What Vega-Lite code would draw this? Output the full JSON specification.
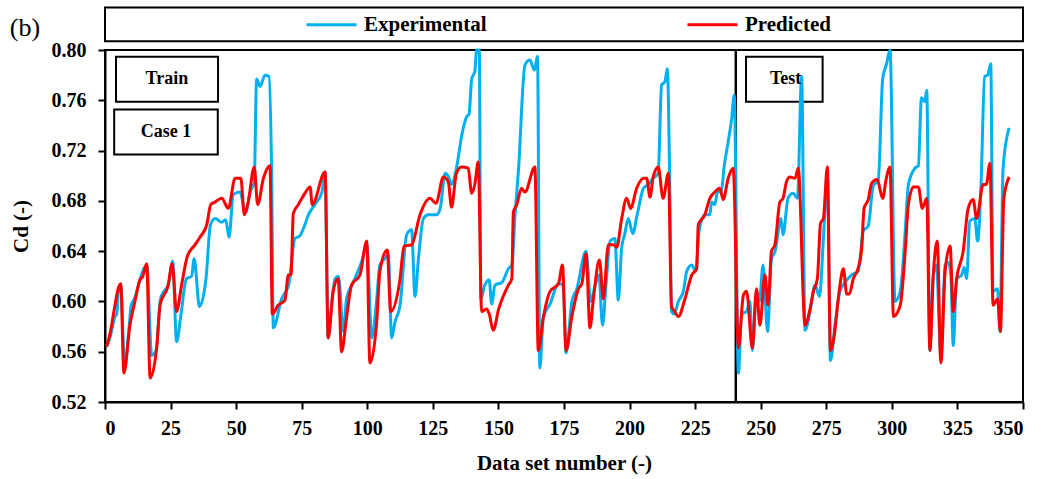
{
  "$schema": "https://vega.github.io/schema/vega-lite/v6.json",
  "width": 918,
  "height": 352,
  "autosize": {"type": "none"},
  "padding": {"left": 105, "top": 50, "right": 18, "bottom": 77},
  "background": "white",
  "config": {
    "font": "Liberation Serif",
    "view": {"stroke": "black", "strokeWidth": 2},
    "axis": {
      "grid": false,
      "domainColor": "black",
      "domainWidth": 2,
      "tickColor": "black",
      "tickWidth": 2,
      "tickSize": 7,
      "labelFont": "Liberation Serif",
      "labelFontSize": 20,
      "labelFontWeight": "bold",
      "labelColor": "black",
      "titleFont": "Liberation Serif",
      "titleFontSize": 21,
      "titleFontWeight": "bold",
      "titleColor": "black"
    }
  },
  "datasets": {
    "one": [{}],
    "series": [
      {"n":0.6,"s":"Experimental","cd":0.564},{"n":2,"s":"Experimental","cd":0.572},{"n":3.8,"s":"Experimental","cd":0.588},{"n":4.5,"s":"Experimental","cd":0.590},{"n":5.1,"s":"Experimental","cd":0.608},{"n":6,"s":"Experimental","cd":0.612},{"n":7.5,"s":"Experimental","cd":0.548},{"n":9,"s":"Experimental","cd":0.575},{"n":10,"s":"Experimental","cd":0.597},{"n":11.4,"s":"Experimental","cd":0.603},{"n":13.3,"s":"Experimental","cd":0.617},{"n":14.4,"s":"Experimental","cd":0.624},{"n":15.9,"s":"Experimental","cd":0.629},{"n":17.8,"s":"Experimental","cd":0.557},{"n":19.5,"s":"Experimental","cd":0.561},{"n":21,"s":"Experimental","cd":0.600},{"n":21.6,"s":"Experimental","cd":0.605},{"n":24.1,"s":"Experimental","cd":0.613},{"n":25.8,"s":"Experimental","cd":0.632},{"n":27.3,"s":"Experimental","cd":0.568},{"n":29,"s":"Experimental","cd":0.590},{"n":31,"s":"Experimental","cd":0.618},{"n":33,"s":"Experimental","cd":0.620},{"n":34,"s":"Experimental","cd":0.634},{"n":36,"s":"Experimental","cd":0.596},{"n":38.5,"s":"Experimental","cd":0.618},{"n":40.2,"s":"Experimental","cd":0.661},{"n":42,"s":"Experimental","cd":0.666},{"n":44.5,"s":"Experimental","cd":0.663},{"n":46,"s":"Experimental","cd":0.665},{"n":47.3,"s":"Experimental","cd":0.651},{"n":48.9,"s":"Experimental","cd":0.685},{"n":51.4,"s":"Experimental","cd":0.687},{"n":53.7,"s":"Experimental","cd":0.671},{"n":55.3,"s":"Experimental","cd":0.687},{"n":56.9,"s":"Experimental","cd":0.695},{"n":57.8,"s":"Experimental","cd":0.777},{"n":59.1,"s":"Experimental","cd":0.771},{"n":61,"s":"Experimental","cd":0.780},{"n":62.5,"s":"Experimental","cd":0.779},{"n":63.5,"s":"Experimental","cd":0.706},{"n":64.2,"s":"Experimental","cd":0.579},{"n":67.3,"s":"Experimental","cd":0.602},{"n":70,"s":"Experimental","cd":0.613},{"n":72.4,"s":"Experimental","cd":0.650},{"n":74.2,"s":"Experimental","cd":0.652},{"n":76.2,"s":"Experimental","cd":0.661},{"n":77.6,"s":"Experimental","cd":0.669},{"n":80,"s":"Experimental","cd":0.677},{"n":82.7,"s":"Experimental","cd":0.687},{"n":83.9,"s":"Experimental","cd":0.703},{"n":85.1,"s":"Experimental","cd":0.571},{"n":86.5,"s":"Experimental","cd":0.600},{"n":87.7,"s":"Experimental","cd":0.618},{"n":89,"s":"Experimental","cd":0.620},{"n":90.9,"s":"Experimental","cd":0.576},{"n":92.1,"s":"Experimental","cd":0.602},{"n":94.6,"s":"Experimental","cd":0.615},{"n":97.9,"s":"Experimental","cd":0.632},{"n":99.8,"s":"Experimental","cd":0.645},{"n":101.7,"s":"Experimental","cd":0.571},{"n":103.6,"s":"Experimental","cd":0.602},{"n":104.8,"s":"Experimental","cd":0.629},{"n":106.7,"s":"Experimental","cd":0.634},{"n":108,"s":"Experimental","cd":0.638},{"n":109.3,"s":"Experimental","cd":0.571},{"n":110.6,"s":"Experimental","cd":0.584},{"n":112.5,"s":"Experimental","cd":0.597},{"n":115,"s":"Experimental","cd":0.653},{"n":116.9,"s":"Experimental","cd":0.657},{"n":118.2,"s":"Experimental","cd":0.604},{"n":119.5,"s":"Experimental","cd":0.634},{"n":121.4,"s":"Experimental","cd":0.666},{"n":123.3,"s":"Experimental","cd":0.669},{"n":126.5,"s":"Experimental","cd":0.669},{"n":127.8,"s":"Experimental","cd":0.674},{"n":129.7,"s":"Experimental","cd":0.702},{"n":131,"s":"Experimental","cd":0.699},{"n":132.1,"s":"Experimental","cd":0.693},{"n":134,"s":"Experimental","cd":0.706},{"n":136,"s":"Experimental","cd":0.732},{"n":137.9,"s":"Experimental","cd":0.747},{"n":138.8,"s":"Experimental","cd":0.749},{"n":139.8,"s":"Experimental","cd":0.777},{"n":141,"s":"Experimental","cd":0.783},{"n":141.7,"s":"Experimental","cd":0.800},{"n":142.7,"s":"Experimental","cd":0.800},{"n":143.3,"s":"Experimental","cd":0.602},{"n":144.8,"s":"Experimental","cd":0.613},{"n":146.5,"s":"Experimental","cd":0.617},{"n":147.4,"s":"Experimental","cd":0.598},{"n":148.7,"s":"Experimental","cd":0.613},{"n":151.3,"s":"Experimental","cd":0.615},{"n":153.8,"s":"Experimental","cd":0.626},{"n":155.1,"s":"Experimental","cd":0.629},{"n":156.4,"s":"Experimental","cd":0.671},{"n":157.6,"s":"Experimental","cd":0.703},{"n":160.1,"s":"Experimental","cd":0.788},{"n":162,"s":"Experimental","cd":0.792},{"n":163.7,"s":"Experimental","cd":0.784},{"n":164.9,"s":"Experimental","cd":0.795},{"n":165.8,"s":"Experimental","cd":0.547},{"n":167.1,"s":"Experimental","cd":0.587},{"n":169.7,"s":"Experimental","cd":0.598},{"n":172.9,"s":"Experimental","cd":0.614},{"n":174.7,"s":"Experimental","cd":0.613},{"n":175.8,"s":"Experimental","cd":0.559},{"n":178,"s":"Experimental","cd":0.600},{"n":179.9,"s":"Experimental","cd":0.610},{"n":183.4,"s":"Experimental","cd":0.640},{"n":185.2,"s":"Experimental","cd":0.600},{"n":186.9,"s":"Experimental","cd":0.613},{"n":188.3,"s":"Experimental","cd":0.621},{"n":189.7,"s":"Experimental","cd":0.581},{"n":191,"s":"Experimental","cd":0.613},{"n":192.6,"s":"Experimental","cd":0.648},{"n":194.4,"s":"Experimental","cd":0.650},{"n":195.7,"s":"Experimental","cd":0.601},{"n":197,"s":"Experimental","cd":0.643},{"n":198.2,"s":"Experimental","cd":0.654},{"n":199.5,"s":"Experimental","cd":0.666},{"n":201.2,"s":"Experimental","cd":0.654},{"n":202.9,"s":"Experimental","cd":0.669},{"n":205.3,"s":"Experimental","cd":0.690},{"n":207.2,"s":"Experimental","cd":0.693},{"n":209,"s":"Experimental","cd":0.698},{"n":210.9,"s":"Experimental","cd":0.702},{"n":212.2,"s":"Experimental","cd":0.772},{"n":213.5,"s":"Experimental","cd":0.775},{"n":214.4,"s":"Experimental","cd":0.785},{"n":215.2,"s":"Experimental","cd":0.711},{"n":216,"s":"Experimental","cd":0.592},{"n":217,"s":"Experimental","cd":0.590},{"n":218.6,"s":"Experimental","cd":0.600},{"n":220.5,"s":"Experimental","cd":0.608},{"n":221.8,"s":"Experimental","cd":0.624},{"n":223.7,"s":"Experimental","cd":0.629},{"n":225.2,"s":"Experimental","cd":0.624},{"n":226.5,"s":"Experimental","cd":0.656},{"n":228.7,"s":"Experimental","cd":0.669},{"n":230.6,"s":"Experimental","cd":0.669},{"n":231.3,"s":"Experimental","cd":0.679},{"n":232.5,"s":"Experimental","cd":0.677},{"n":233.5,"s":"Experimental","cd":0.687},{"n":235,"s":"Experimental","cd":0.688},{"n":236.1,"s":"Experimental","cd":0.708},{"n":237.6,"s":"Experimental","cd":0.727},{"n":238.9,"s":"Experimental","cd":0.745},{"n":239.9,"s":"Experimental","cd":0.764},{"n":241.5,"s":"Experimental","cd":0.543},{"n":242.7,"s":"Experimental","cd":0.590},{"n":244.6,"s":"Experimental","cd":0.592},{"n":245.9,"s":"Experimental","cd":0.600},{"n":246.8,"s":"Experimental","cd":0.561},{"n":248.4,"s":"Experimental","cd":0.608},{"n":249.5,"s":"Experimental","cd":0.600},{"n":250.9,"s":"Experimental","cd":0.629},{"n":252.6,"s":"Experimental","cd":0.576},{"n":254.1,"s":"Experimental","cd":0.634},{"n":255.5,"s":"Experimental","cd":0.640},{"n":257.7,"s":"Experimental","cd":0.666},{"n":258.5,"s":"Experimental","cd":0.653},{"n":260.4,"s":"Experimental","cd":0.682},{"n":262.3,"s":"Experimental","cd":0.686},{"n":264,"s":"Experimental","cd":0.682},{"n":265.6,"s":"Experimental","cd":0.779},{"n":266.9,"s":"Experimental","cd":0.577},{"n":268.8,"s":"Experimental","cd":0.592},{"n":270.7,"s":"Experimental","cd":0.613},{"n":272.4,"s":"Experimental","cd":0.604},{"n":273.9,"s":"Experimental","cd":0.650},{"n":275.4,"s":"Experimental","cd":0.700},{"n":276.6,"s":"Experimental","cd":0.553},{"n":278.3,"s":"Experimental","cd":0.581},{"n":280.2,"s":"Experimental","cd":0.608},{"n":282.1,"s":"Experimental","cd":0.615},{"n":284.6,"s":"Experimental","cd":0.621},{"n":287.2,"s":"Experimental","cd":0.624},{"n":289.1,"s":"Experimental","cd":0.656},{"n":291,"s":"Experimental","cd":0.660},{"n":292.9,"s":"Experimental","cd":0.692},{"n":294.8,"s":"Experimental","cd":0.696},{"n":296.5,"s":"Experimental","cd":0.777},{"n":298,"s":"Experimental","cd":0.789},{"n":299.3,"s":"Experimental","cd":0.800},{"n":301.2,"s":"Experimental","cd":0.600},{"n":303.2,"s":"Experimental","cd":0.608},{"n":305.1,"s":"Experimental","cd":0.656},{"n":306.3,"s":"Experimental","cd":0.693},{"n":308.8,"s":"Experimental","cd":0.706},{"n":310.1,"s":"Experimental","cd":0.708},{"n":311.3,"s":"Experimental","cd":0.762},{"n":312.6,"s":"Experimental","cd":0.759},{"n":313.3,"s":"Experimental","cd":0.768},{"n":314.5,"s":"Experimental","cd":0.561},{"n":315.8,"s":"Experimental","cd":0.621},{"n":317,"s":"Experimental","cd":0.629},{"n":318.7,"s":"Experimental","cd":0.555},{"n":320.3,"s":"Experimental","cd":0.629},{"n":321.5,"s":"Experimental","cd":0.631},{"n":322.5,"s":"Experimental","cd":0.621},{"n":323.4,"s":"Experimental","cd":0.565},{"n":324.7,"s":"Experimental","cd":0.618},{"n":326.6,"s":"Experimental","cd":0.621},{"n":327.6,"s":"Experimental","cd":0.627},{"n":328.5,"s":"Experimental","cd":0.618},{"n":329.7,"s":"Experimental","cd":0.664},{"n":331.6,"s":"Experimental","cd":0.666},{"n":332.7,"s":"Experimental","cd":0.648},{"n":333.9,"s":"Experimental","cd":0.687},{"n":335.4,"s":"Experimental","cd":0.779},{"n":336.5,"s":"Experimental","cd":0.780},{"n":337.7,"s":"Experimental","cd":0.789},{"n":338.6,"s":"Experimental","cd":0.608},{"n":340.3,"s":"Experimental","cd":0.610},{"n":341.2,"s":"Experimental","cd":0.576},{"n":342.4,"s":"Experimental","cd":0.706},{"n":344.7,"s":"Experimental","cd":0.738},
      {"n":0.6,"s":"Predicted","cd":0.564},{"n":2,"s":"Predicted","cd":0.575},{"n":3.8,"s":"Predicted","cd":0.597},{"n":5,"s":"Predicted","cd":0.610},{"n":6,"s":"Predicted","cd":0.614},{"n":7.2,"s":"Predicted","cd":0.543},{"n":9.5,"s":"Predicted","cd":0.581},{"n":11.4,"s":"Predicted","cd":0.600},{"n":13.3,"s":"Predicted","cd":0.617},{"n":14.4,"s":"Predicted","cd":0.620},{"n":15.9,"s":"Predicted","cd":0.630},{"n":17.2,"s":"Predicted","cd":0.539},{"n":19.7,"s":"Predicted","cd":0.563},{"n":21,"s":"Predicted","cd":0.597},{"n":24.1,"s":"Predicted","cd":0.613},{"n":25.6,"s":"Predicted","cd":0.630},{"n":27.3,"s":"Predicted","cd":0.592},{"n":29.2,"s":"Predicted","cd":0.613},{"n":31.4,"s":"Predicted","cd":0.636},{"n":34.3,"s":"Predicted","cd":0.645},{"n":36.2,"s":"Predicted","cd":0.651},{"n":38.8,"s":"Predicted","cd":0.661},{"n":40.3,"s":"Predicted","cd":0.677},{"n":41.9,"s":"Predicted","cd":0.679},{"n":44.5,"s":"Predicted","cd":0.682},{"n":47,"s":"Predicted","cd":0.674},{"n":49.6,"s":"Predicted","cd":0.698},{"n":51.8,"s":"Predicted","cd":0.698},{"n":53.1,"s":"Predicted","cd":0.669},{"n":54.6,"s":"Predicted","cd":0.679},{"n":56.9,"s":"Predicted","cd":0.707},{"n":58.2,"s":"Predicted","cd":0.677},{"n":60.4,"s":"Predicted","cd":0.698},{"n":62.9,"s":"Predicted","cd":0.708},{"n":63.8,"s":"Predicted","cd":0.590},{"n":66,"s":"Predicted","cd":0.597},{"n":68.6,"s":"Predicted","cd":0.601},{"n":69.9,"s":"Predicted","cd":0.621},{"n":70.9,"s":"Predicted","cd":0.621},{"n":71.8,"s":"Predicted","cd":0.670},{"n":73.7,"s":"Predicted","cd":0.677},{"n":76.2,"s":"Predicted","cd":0.686},{"n":78.2,"s":"Predicted","cd":0.691},{"n":79,"s":"Predicted","cd":0.677},{"n":83.9,"s":"Predicted","cd":0.703},{"n":85.1,"s":"Predicted","cd":0.571},{"n":87,"s":"Predicted","cd":0.608},{"n":88.9,"s":"Predicted","cd":0.618},{"n":90.2,"s":"Predicted","cd":0.560},{"n":92.1,"s":"Predicted","cd":0.587},{"n":94,"s":"Predicted","cd":0.613},{"n":97.2,"s":"Predicted","cd":0.621},{"n":99.8,"s":"Predicted","cd":0.648},{"n":101,"s":"Predicted","cd":0.551},{"n":103.6,"s":"Predicted","cd":0.584},{"n":104.8,"s":"Predicted","cd":0.624},{"n":107.6,"s":"Predicted","cd":0.641},{"n":108.9,"s":"Predicted","cd":0.592},{"n":112.5,"s":"Predicted","cd":0.618},{"n":114,"s":"Predicted","cd":0.644},{"n":116.9,"s":"Predicted","cd":0.645},{"n":120.1,"s":"Predicted","cd":0.669},{"n":123.9,"s":"Predicted","cd":0.682},{"n":126.2,"s":"Predicted","cd":0.678},{"n":129,"s":"Predicted","cd":0.699},{"n":130.9,"s":"Predicted","cd":0.695},{"n":132.1,"s":"Predicted","cd":0.675},{"n":134,"s":"Predicted","cd":0.702},{"n":135.9,"s":"Predicted","cd":0.707},{"n":138.5,"s":"Predicted","cd":0.706},{"n":139.8,"s":"Predicted","cd":0.686},{"n":141,"s":"Predicted","cd":0.693},{"n":142.3,"s":"Predicted","cd":0.711},{"n":143.6,"s":"Predicted","cd":0.592},{"n":145.5,"s":"Predicted","cd":0.594},{"n":146.5,"s":"Predicted","cd":0.590},{"n":148,"s":"Predicted","cd":0.577},{"n":150.1,"s":"Predicted","cd":0.594},{"n":153.8,"s":"Predicted","cd":0.613},{"n":155.1,"s":"Predicted","cd":0.618},{"n":155.7,"s":"Predicted","cd":0.671},{"n":157,"s":"Predicted","cd":0.677},{"n":158.8,"s":"Predicted","cd":0.690},{"n":160.1,"s":"Predicted","cd":0.687},{"n":163.9,"s":"Predicted","cd":0.707},{"n":165.2,"s":"Predicted","cd":0.561},{"n":167.1,"s":"Predicted","cd":0.587},{"n":169.7,"s":"Predicted","cd":0.608},{"n":172.9,"s":"Predicted","cd":0.614},{"n":174.4,"s":"Predicted","cd":0.629},{"n":175.8,"s":"Predicted","cd":0.561},{"n":178,"s":"Predicted","cd":0.588},{"n":180.5,"s":"Predicted","cd":0.610},{"n":181.8,"s":"Predicted","cd":0.614},{"n":183.4,"s":"Predicted","cd":0.638},{"n":184.9,"s":"Predicted","cd":0.579},{"n":186.2,"s":"Predicted","cd":0.602},{"n":188.5,"s":"Predicted","cd":0.633},{"n":190,"s":"Predicted","cd":0.602},{"n":191.9,"s":"Predicted","cd":0.645},{"n":193.8,"s":"Predicted","cd":0.645},{"n":195.1,"s":"Predicted","cd":0.643},{"n":197,"s":"Predicted","cd":0.666},{"n":198.9,"s":"Predicted","cd":0.682},{"n":200.4,"s":"Predicted","cd":0.674},{"n":202.7,"s":"Predicted","cd":0.690},{"n":205.3,"s":"Predicted","cd":0.698},{"n":206.5,"s":"Predicted","cd":0.698},{"n":207.8,"s":"Predicted","cd":0.683},{"n":209,"s":"Predicted","cd":0.699},{"n":210.9,"s":"Predicted","cd":0.707},{"n":212.8,"s":"Predicted","cd":0.682},{"n":214.8,"s":"Predicted","cd":0.702},{"n":216,"s":"Predicted","cd":0.596},{"n":217.2,"s":"Predicted","cd":0.592},{"n":218.6,"s":"Predicted","cd":0.588},{"n":221.1,"s":"Predicted","cd":0.602},{"n":223.7,"s":"Predicted","cd":0.621},{"n":225.6,"s":"Predicted","cd":0.626},{"n":226.2,"s":"Predicted","cd":0.661},{"n":228.7,"s":"Predicted","cd":0.669},{"n":230.6,"s":"Predicted","cd":0.682},{"n":232.5,"s":"Predicted","cd":0.687},{"n":234.4,"s":"Predicted","cd":0.690},{"n":235.7,"s":"Predicted","cd":0.681},{"n":237.6,"s":"Predicted","cd":0.698},{"n":239.5,"s":"Predicted","cd":0.706},{"n":241.5,"s":"Predicted","cd":0.563},{"n":243.4,"s":"Predicted","cd":0.605},{"n":244.6,"s":"Predicted","cd":0.608},{"n":246.8,"s":"Predicted","cd":0.563},{"n":248.4,"s":"Predicted","cd":0.610},{"n":249.7,"s":"Predicted","cd":0.581},{"n":251.6,"s":"Predicted","cd":0.621},{"n":252.8,"s":"Predicted","cd":0.597},{"n":254.1,"s":"Predicted","cd":0.640},{"n":255.4,"s":"Predicted","cd":0.645},{"n":257.3,"s":"Predicted","cd":0.679},{"n":258.5,"s":"Predicted","cd":0.682},{"n":259.8,"s":"Predicted","cd":0.695},{"n":261.1,"s":"Predicted","cd":0.699},{"n":263.1,"s":"Predicted","cd":0.698},{"n":264.3,"s":"Predicted","cd":0.706},{"n":266.9,"s":"Predicted","cd":0.581},{"n":268.8,"s":"Predicted","cd":0.594},{"n":270.1,"s":"Predicted","cd":0.608},{"n":271.6,"s":"Predicted","cd":0.618},{"n":272.8,"s":"Predicted","cd":0.662},{"n":273.9,"s":"Predicted","cd":0.666},{"n":275.4,"s":"Predicted","cd":0.707},{"n":276.6,"s":"Predicted","cd":0.561},{"n":277.9,"s":"Predicted","cd":0.571},{"n":279.9,"s":"Predicted","cd":0.608},{"n":281.5,"s":"Predicted","cd":0.626},{"n":282.8,"s":"Predicted","cd":0.606},{"n":283.8,"s":"Predicted","cd":0.606},{"n":285.3,"s":"Predicted","cd":0.618},{"n":287.2,"s":"Predicted","cd":0.627},{"n":288.5,"s":"Predicted","cd":0.642},{"n":289.4,"s":"Predicted","cd":0.674},{"n":291,"s":"Predicted","cd":0.681},{"n":292.3,"s":"Predicted","cd":0.694},{"n":294.4,"s":"Predicted","cd":0.697},{"n":296.5,"s":"Predicted","cd":0.682},{"n":297.8,"s":"Predicted","cd":0.697},{"n":299.3,"s":"Predicted","cd":0.707},{"n":300.6,"s":"Predicted","cd":0.588},{"n":303.2,"s":"Predicted","cd":0.597},{"n":305.1,"s":"Predicted","cd":0.640},{"n":306.3,"s":"Predicted","cd":0.677},{"n":308.2,"s":"Predicted","cd":0.691},{"n":310.1,"s":"Predicted","cd":0.691},{"n":311.6,"s":"Predicted","cd":0.674},{"n":313.3,"s":"Predicted","cd":0.682},{"n":314.5,"s":"Predicted","cd":0.561},{"n":315.8,"s":"Predicted","cd":0.621},{"n":317.3,"s":"Predicted","cd":0.648},{"n":318.7,"s":"Predicted","cd":0.551},{"n":320.3,"s":"Predicted","cd":0.624},{"n":322.2,"s":"Predicted","cd":0.644},{"n":323.4,"s":"Predicted","cd":0.592},{"n":324.7,"s":"Predicted","cd":0.618},{"n":327.2,"s":"Predicted","cd":0.640},{"n":329.1,"s":"Predicted","cd":0.674},{"n":331,"s":"Predicted","cd":0.681},{"n":332.3,"s":"Predicted","cd":0.666},{"n":334.8,"s":"Predicted","cd":0.693},{"n":336,"s":"Predicted","cd":0.693},{"n":337.4,"s":"Predicted","cd":0.710},{"n":338.6,"s":"Predicted","cd":0.597},{"n":340.3,"s":"Predicted","cd":0.602},{"n":341.4,"s":"Predicted","cd":0.576},{"n":342.7,"s":"Predicted","cd":0.682},{"n":344.7,"s":"Predicted","cd":0.699}
    ]
  },
  "layer": [
    {
      "data": {"name": "one"},
      "mark": {"type": "rect", "fill": "white", "stroke": "black", "strokeWidth": 2},
      "encoding": {
        "x": {"datum": 0, "type": "quantitative", "scale": {"domain": [0, 350]}},
        "x2": {"datum": 350},
        "y": {"datum": 0.8338, "type": "quantitative", "scale": {"domain": [0.52, 0.80]}},
        "y2": {"datum": 0.8070}
      }
    },
    {
      "data": {"name": "one"},
      "mark": {"type": "rect", "fill": "white", "stroke": "black", "strokeWidth": 2},
      "encoding": {
        "x": {"datum": 4.2, "type": "quantitative"},
        "x2": {"datum": 43.1},
        "y": {"datum": 0.7946, "type": "quantitative"},
        "y2": {"datum": 0.7588}
      }
    },
    {
      "data": {"name": "one"},
      "mark": {"type": "rect", "fill": "white", "stroke": "black", "strokeWidth": 2},
      "encoding": {
        "x": {"datum": 3.5, "type": "quantitative"},
        "x2": {"datum": 43.0},
        "y": {"datum": 0.7527, "type": "quantitative"},
        "y2": {"datum": 0.7169}
      }
    },
    {
      "data": {"name": "one"},
      "mark": {"type": "rect", "fill": "white", "stroke": "black", "strokeWidth": 2},
      "encoding": {
        "x": {"datum": 244.4, "type": "quantitative"},
        "x2": {"datum": 273.6},
        "y": {"datum": 0.7946, "type": "quantitative"},
        "y2": {"datum": 0.7588}
      }
    },
    {
      "data": {"name": "one"},
      "mark": {"type": "rule", "color": "black", "strokeWidth": 2.5},
      "encoding": {"x": {"datum": 240.5, "type": "quantitative"}}
    },
    {
      "data": {"name": "series"},
      "mark": {"type": "line", "strokeWidth": 3, "interpolate": "monotone"},
      "encoding": {
        "x": {
          "field": "n", "type": "quantitative",
          "scale": {"domain": [0, 350], "nice": false},
          "axis": {"values": [0,25,50,75,100,125,150,175,200,225,250,275,300,325,350], "title": "Data set number (-)", "labelPadding": 9, "titlePadding": 14}
        },
        "y": {
          "field": "cd", "type": "quantitative",
          "scale": {"domain": [0.52, 0.80], "nice": false, "zero": false},
          "axis": {"values": [0.52,0.56,0.60,0.64,0.68,0.72,0.76,0.80], "format": ".2f", "title": "Cd (-)", "labelPadding": 12, "titlePadding": 20}
        },
        "color": {
          "field": "s", "type": "nominal",
          "scale": {"domain": ["Experimental", "Predicted"], "range": ["#00B0F0", "#FF0000"]},
          "legend": {
            "title": null,
            "orient": "none",
            "legendX": 200,
            "legendY": -52,
            "direction": "horizontal",
            "symbolType": "stroke",
            "symbolSize": 2500,
            "symbolStrokeWidth": 3,
            "labelFont": "Liberation Serif",
            "labelFontSize": 21,
            "labelFontWeight": "bold",
            "labelColor": "black",
            "labelOffset": 6,
            "columnPadding": 194
          }
        }
      }
    },
    {
      "data": {"name": "one"},
      "mark": {"type": "text", "font": "Liberation Serif", "fontSize": 18, "fontWeight": "bold", "fill": "black"},
      "encoding": {"x": {"datum": 23.6, "type": "quantitative"}, "y": {"datum": 0.7767, "type": "quantitative"}, "text": {"value": "Train"}}
    },
    {
      "data": {"name": "one"},
      "mark": {"type": "text", "font": "Liberation Serif", "fontSize": 18, "fontWeight": "bold", "fill": "black"},
      "encoding": {"x": {"datum": 23.3, "type": "quantitative"}, "y": {"datum": 0.7348, "type": "quantitative"}, "text": {"value": "Case 1"}}
    },
    {
      "data": {"name": "one"},
      "mark": {"type": "text", "font": "Liberation Serif", "fontSize": 18, "fontWeight": "bold", "fill": "black"},
      "encoding": {"x": {"datum": 259.5, "type": "quantitative"}, "y": {"datum": 0.7767, "type": "quantitative"}, "text": {"value": "Test"}}
    },
    {
      "data": {"name": "one"},
      "mark": {"type": "text", "font": "Liberation Serif", "fontSize": 26, "fill": "black"},
      "encoding": {"x": {"datum": -30.5, "type": "quantitative"}, "y": {"datum": 0.8178, "type": "quantitative"}, "text": {"value": "(b)"}}
    }
  ]
}
